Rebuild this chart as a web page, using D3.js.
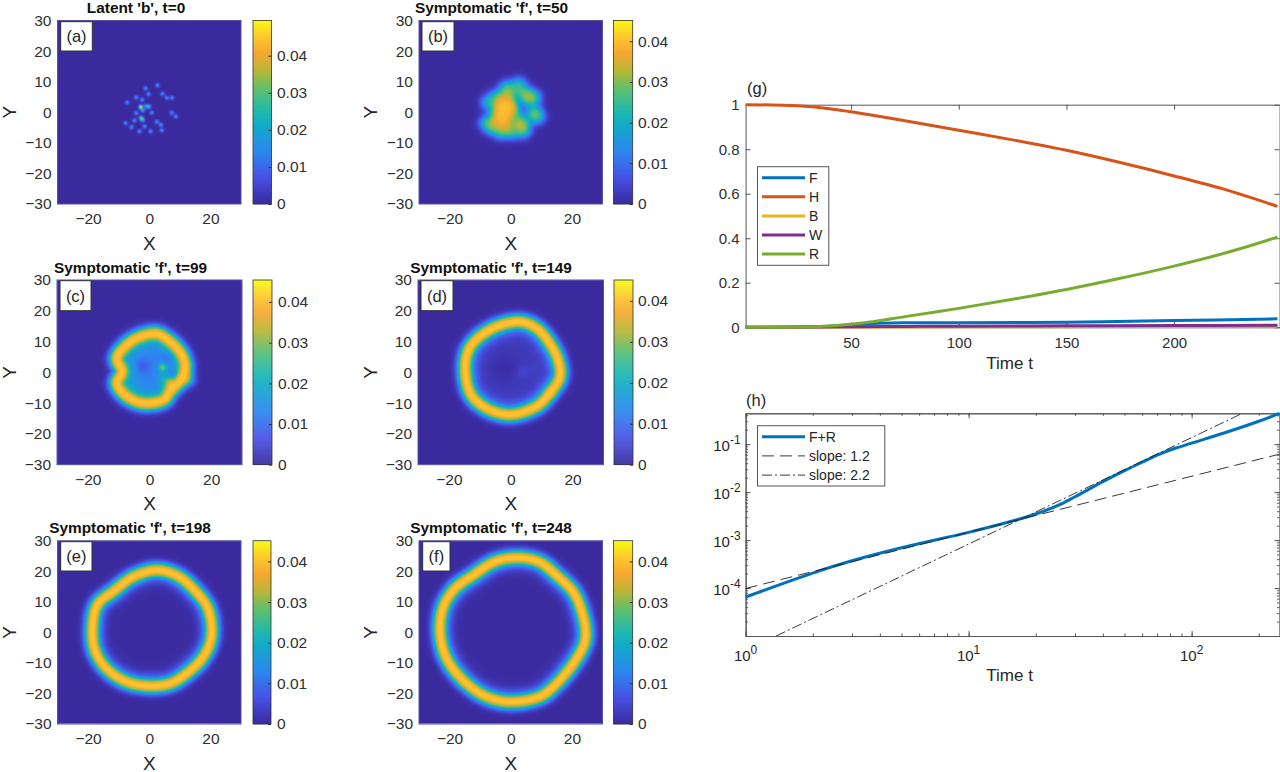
<!DOCTYPE html>
<html><head><meta charset="utf-8">
<script src="https://cdn.jsdelivr.net/npm/d3@7/dist/d3.min.js"></script>
<style>
html,body{margin:0;padding:0;background:#fff;overflow:hidden}
text{font-family:"Liberation Sans",Arial,sans-serif;fill:#262626}
</style></head><body><svg id="c" width="1280" height="772"></svg>
<script>
// ---------- data ----------
const parulaStops = ["#3a2a9e","#4752e4","#2d87f0","#12abc8","#1fb8b0","#5cc070","#b5b838","#f5a832","#fcc42e","#f9f914"];
const parulaPositions = [0,.143,.286,.43,.5,.62,.72,.82,.9,1];
const panelTitles = ["Latent 'b', t=0","Symptomatic 'f', t=50","Symptomatic 'f', t=99","Symptomatic 'f', t=149","Symptomatic 'f', t=198","Symptomatic 'f', t=248"];
const panelLetters = ["(a)","(b)","(c)","(d)","(e)","(f)"];
const colorMax = [0.0495,0.0451,0.0454,0.0451,0.0451,0.0451];
const xTicks = [-20,0,20];
const yTicks = [-30,-20,-10,0,10,20,30];
const cbTicks = [0,0.01,0.02,0.03,0.04];
// seeds [x, y, amplitude]
const seeds = [[-1.14,7.8,.016],[2.78,8.8,.016],[-.16,5.86,.017],[4.41,5.96,.016],[5.83,4.66,.016],[7.57,4.66,.016],[-4.19,4.77,.016],[-2.23,4,.016],[-7.13,3.13,.015],[-2.67,1.6,.047],[-.06,1.82,.024],[-1,1.85,.018],[-2,.52,.017],[.93,-.25,.016],[-4.19,-.35,.016],[7.46,-.25,.016],[8.77,-1.44,.015],[-2.56,-1.99,.03],[-2.1,-2.6,.02],[-4.74,-2.75,.016],[-7.68,-3.62,.015],[-5.72,-4.93,.016],[-1.47,-4.71,.016],[2.56,-3.19,.016],[3.87,-4.17,.016],[4.19,-6.02,.016],[-3.1,-6.35,.016],[.49,-6.35,.016]];
// infection front ridges [x, y]
const ridgeC = [[2.4,12.5],[6.7,10],[10.5,5.7],[11.6,1.8],[10.5,-2],[6.7,-6.3],[4.6,-9],[-2,-10.1],[-7.4,-7.9],[-10.6,-3.6],[-9,.2],[-10.6,4.6],[-7.4,8.9],[-3,11.6]];
const ridgeD = [[3,16.4],[8.4,14.3],[12.7,9.4],[15.4,4],[16,-1.4],[12.7,-6.8],[8.4,-11.1],[-.3,-13.8],[-7.8,-11.7],[-12.7,-7.4],[-14.5,-1.4],[-14.3,5.1],[-12.2,9.4],[-5.7,14.3]];
const ridgeE = [[2.5,20.4],[9,18.7],[14.4,14.4],[19.3,7.8],[20.4,-1.4],[17.7,-8],[12.3,-13.4],[6.8,-16.7],[.3,-17.5],[-7.4,-16.1],[-13.9,-11.8],[-17.7,-5.8],[-18.5,1.9],[-16.8,9.2],[-11.5,13.6],[-5.2,18.2]];
const ridgeF = [[3,24.5],[9.6,23],[15,18.8],[20.5,13.3],[23,7.9],[24.6,.8],[24.2,-3.5],[21,-9.5],[15,-16.8],[9.6,-21],[-.2,-22.7],[-7.9,-21],[-14.4,-16.7],[-19.3,-11.2],[-22,-5.8],[-23.1,1.9],[-21.8,8.9],[-18.2,14.4],[-12.2,18.8],[-4.6,23.4]];
// interior patches [x, y, amplitude, width]
const patchesC = [[-2,1.8,-.005,1.6],[4.2,1.6,.016,.9],[7.8,-.9,-.005,1],[6.5,-3.5,.01,1.2],[4.7,-2,.005,1.5],[13,-2.5,.012,1.5],[-5,-4,.002,2],[6,5,-.003,1.5]];
const patchesD = [[-2,1,-.002,3],[4,0,.002,1.5],[8,1,.001,1.5],[13,-7,.004,1.3]];
const patchesE = [];
const patchesF = [];
const interiorBase = [.0125,.0025,.0002,.0002];
// time series
const tH=[1,25,40,50,75,100,125,150,175,200,225,248], vH=[1,.995,.982,.968,.928,.885,.842,.795,.74,.68,.615,.543];
const tR=[1,25,40,50,60,75,100,125,150,175,200,225,248], vR=[0,.001,.006,.014,.025,.048,.085,.126,.17,.22,.275,.337,.405];
const tF=[1,25,40,50,60,75,100,150,200,248], vF=[0,.001,.005,.011,.017,.02,.021,.023,.03,.038];
const tB=[1,50,100,150,200,248], vB=[0,.001,.002,.003,.004,.005];
const tW=[1,50,75,100,150,200,248], vW=[0,.002,.004,.005,.007,.008,.009];
const linearXTicks=[50,100,150,200], linearYTicks=[0,.2,.4,.6,.8,1];
const seriesNames=["F","H","B","W","R"];
const seriesColors=["#0072bd","#d95319","#edb120","#7e2f8e","#77ac30"];
// log plot
const tSum=[1,2,3,5,10,15,20,25,30,40,50,60,70,85,100,150,200,248], vSum=[6.5e-5,2.05e-4,3.7e-4,6.9e-4,1.45e-3,2.35e-3,3.5e-3,5.2e-3,8e-3,.0165,.028,.042,.059,.083,.105,.19,.3,.44];
const tSlope1=[1,248], vSlope1=[9.8e-5,.062];
const tSlope2=[1.37,169], vSlope2=[1e-5,.44];
const logLegend=["F+R","slope: 1.2","slope: 2.2"];

// ---------- layout ----------
const layout=[
 {x0:57.5,x1:241,y0:20.5,y1:204,c0:253,c1:271.5,tx:136,ty:13,b:[60.7,92.3,21.7,51],ylab:9,cl:277},
 {x0:419,x1:602.5,y0:20.5,y1:204,c0:613.5,c1:632.7,tx:491.5,ty:13,b:[422,454,21.7,51],ylab:370,cl:638},
 {x0:57,x1:242,y0:280,y1:464.7,c0:253,c1:272,tx:130.5,ty:272.5,b:[60,91,280.7,310.7],ylab:9,cl:278},
 {x0:418,x1:603.5,y0:280,y1:464.7,c0:614,c1:633,tx:491,ty:272.5,b:[421,453,280.7,310.7],ylab:370,cl:638},
 {x0:57.5,x1:241,y0:540.7,y1:724,c0:253,c1:271,tx:130,ty:532.5,b:[60.7,92,541.7,571],ylab:9,cl:277},
 {x0:419,x1:602.5,y0:540.7,y1:724,c0:613.5,c1:632.7,tx:491,ty:532.5,b:[422.7,450,541.7,571],ylab:370,cl:638}];
const svg=d3.select("#c");
const parulaAt=d3.scaleLinear().domain(parulaPositions).range(parulaStops).clamp(true);
const TICK=15.5;

function sampleRidge(r){
  const p=document.createElementNS("http://www.w3.org/2000/svg","path");
  p.setAttribute("d",d3.line().curve(d3.curveCatmullRomClosed)(r));
  const L=p.getTotalLength(),out=[];
  for(let s=0;s<L;s+=.4){const q=p.getPointAtLength(s);out.push([q.x,q.y]);}
  return out;
}
const g2=(d2,s)=>Math.exp(-d2/(2*s*s));
function makeField(i){
  if(i===0) return (x,y)=>{let v=0;for(const s of seeds){const d=(x-s[0])**2+(y-s[1])**2;v+=s[2]*g2(d,.47);}return v;};
  if(i===1) return (x,y)=>{let v=0;for(const s of seeds){const d=(x-s[0])**2+(y-s[1])**2;v+=(s[2]/.016)*g2(d,1.7);}
     return .0405*(1-Math.exp(-v*.7));};
  const k=i-2;
  const rid=sampleRidge([ridgeC,ridgeD,ridgeE,ridgeF][k]);
  const patches=[patchesC,patchesD,patchesE,patchesF][k];
  const base=interiorBase[k];
  return (x,y)=>{
    let m=1e9;for(const q of rid){const d=(x-q[0])*(x-q[0])+(y-q[1])*(y-q[1]);if(d<m)m=d;}
    const dist=Math.sqrt(m),e=Math.max(dist-.35,0),e2=e*e;
    let v;
    if(d3.polygonContains(rid,[x,y])) v=.027*g2(e2,1.3)+.0135*g2(e2,2.4)+base*(1-g2(m,2));
    else v=.0405*g2(e2,1.6);
    const fade=1-g2(m,1);
    for(const q of patches){v+=q[2]*g2((x-q[0])**2+(y-q[1])**2,q[3])*fade;}
    return Math.max(v,0);
  };
}
layout.forEach((L,i)=>{
  const x=d3.scaleLinear().domain([-30,30]).range([L.x0,L.x1]);
  const y=d3.scaleLinear().domain([-30,30]).range([L.y1,L.y0]);
  const color=d3.scaleLinear().domain([0,colorMax[i]]).range([0,1]);
  const W=Math.round(L.x1-L.x0),H=Math.round(L.y1-L.y0);
  const cv=document.createElement("canvas");cv.width=W;cv.height=H;
  const ctx=cv.getContext("2d"),im=ctx.createImageData(W,H),f=makeField(i);
  for(let py=0;py<H;py++)for(let px=0;px<W;px++){
    const c=d3.rgb(parulaAt(color(f(x.invert(L.x0+px+.5),y.invert(L.y0+py+.5)))));
    const o=(py*W+px)*4;im.data[o]=c.r;im.data[o+1]=c.g;im.data[o+2]=c.b;im.data[o+3]=255;
  }
  ctx.putImageData(im,0,0);
  svg.append("image").attr("x",L.x0).attr("y",L.y0).attr("width",L.x1-L.x0).attr("height",L.y1-L.y0).attr("href",cv.toDataURL());
  svg.append("rect").attr("x",L.x0).attr("y",L.y0).attr("width",L.x1-L.x0).attr("height",L.y1-L.y0).attr("fill","none").attr("stroke","#57559a").attr("stroke-width",1);
  // axes
  const ax=svg.append("g").attr("transform",`translate(0,${L.y1})`).call(d3.axisBottom(x).tickValues(xTicks).tickSize(0).tickPadding(9).tickFormat(d3.format("d")));
  const ay=svg.append("g").attr("transform",`translate(${L.x0},0)`).call(d3.axisLeft(y).tickValues(yTicks).tickSize(0).tickPadding(6).tickFormat(d3.format("d")));
  [ax,ay].forEach(a=>{a.select(".domain").remove();a.selectAll("text").attr("font-size",TICK).attr("font-family",null).style("fill","#303030");});
  ax.selectAll("text").attr("dy","0.71em");
  svg.append("text").attr("x",(L.x0+L.x1)/2).attr("y",L.y1+45.5).attr("text-anchor","middle").attr("font-size",19).text("X");
  svg.append("text").attr("transform",`translate(${L.ylab+6.5},${(L.y0+L.y1)/2}) rotate(-90)`).attr("text-anchor","middle").attr("font-size",19).text("Y");
  svg.append("text").attr("x",L.tx).attr("y",L.ty).attr("text-anchor","middle").attr("font-size",15.4).attr("font-weight","bold").style("fill","#111").text(panelTitles[i]);
  // label box
  const b=L.b;
  svg.append("rect").attr("x",b[0]).attr("y",b[2]).attr("width",b[1]-b[0]).attr("height",b[3]-b[2]).attr("fill","#fff").attr("stroke","#333").attr("stroke-width",1);
  svg.append("text").attr("x",(b[0]+b[1])/2).attr("y",(b[2]+b[3])/2+6).attr("text-anchor","middle").attr("font-size",16.5).text(panelLetters[i]);
  // colorbar
  const cy=d3.scaleLinear().domain([0,colorMax[i]]).range([L.y1,L.y0]);
  const cbH=Math.round(L.y1-L.y0);
  svg.append("g").selectAll("rect").data(d3.range(cbH)).join("rect")
    .attr("x",L.c0).attr("width",L.c1-L.c0).attr("y",d=>L.y1-d-1).attr("height",1.2)
    .attr("fill",d=>parulaAt((d+.5)/cbH));
  svg.append("rect").attr("x",L.c0).attr("y",L.y0).attr("width",L.c1-L.c0).attr("height",L.y1-L.y0).attr("fill","none").attr("stroke","#333").attr("stroke-width",.8);
  const cax=svg.append("g").attr("transform",`translate(${L.c1},0)`).call(d3.axisRight(cy).tickValues(cbTicks).tickSize(-3).tickPadding(6).tickFormat(d=>d===0?"0":d3.format(".2f")(d)));
  cax.select(".domain").remove();cax.selectAll("line").attr("stroke","#333");
  cax.selectAll("text").attr("font-size",TICK).attr("font-family",null).attr("x",L.cl-L.c1).style("fill","#303030");
});

// ---------- panel g ----------
const GX=[745.6,1279.6],GY=[327.3,104.7],HY=[636,413.3];
const gx=d3.scaleLinear().domain([1,249]).range(GX);
const gy=d3.scaleLinear().domain([0,1]).range(GY);
const axisCol="#555";
function styleAxis(a){a.select(".domain").attr("stroke",axisCol);a.selectAll("line").attr("stroke",axisCol);a.selectAll("text").attr("font-size",15).attr("font-family",null).style("fill","#303030");}
styleAxis(svg.append("g").attr("transform",`translate(0,${GY[1]})`).call(d3.axisTop(gx).tickValues(linearXTicks).tickSize(-5).tickSizeOuter(0).tickFormat("")));
styleAxis(svg.append("g").attr("transform",`translate(${GX[1]},0)`).call(d3.axisRight(gy).tickValues(linearYTicks).tickSize(-5).tickSizeOuter(0).tickFormat("")));
styleAxis(svg.append("g").attr("transform",`translate(0,${GY[0]})`).call(d3.axisBottom(gx).tickValues(linearXTicks).tickSize(-5).tickSizeOuter(0).tickPadding(10)));
styleAxis(svg.append("g").attr("transform",`translate(${GX[0]},0)`).call(d3.axisLeft(gy).tickValues(linearYTicks).tickSize(-5).tickSizeOuter(0).tickPadding(6).tickFormat(d=>d)));
const gLine=d3.line().curve(d3.curveCatmullRom).x(d=>gx(d[0])).y(d=>gy(d[1]));
const gSeries=[d3.zip(tF,vF),d3.zip(tH,vH),d3.zip(tB,vB),d3.zip(tW,vW),d3.zip(tR,vR)];
gSeries.forEach((s,i)=>svg.append("path").attr("d",gLine(s)).attr("fill","none").attr("stroke",seriesColors[i]).attr("stroke-width",3));
svg.append("text").attr("x",747).attr("y",94).attr("font-size",16.5).text("(g)");
svg.append("text").attr("x",(GX[0]+GX[1])/2-3).attr("y",369).attr("text-anchor","middle").attr("font-size",17).text("Time t");
svg.append("rect").attr("x",757.5).attr("y",166.7).attr("width",71.3).attr("height",98.6).attr("fill","#fff").attr("stroke","#555");
seriesNames.forEach((n,i)=>{
  const ly=177.7+i*19.1;
  svg.append("line").attr("x1",762).attr("x2",805).attr("y1",ly).attr("y2",ly).attr("stroke",seriesColors[i]).attr("stroke-width",3);
  svg.append("text").attr("x",809).attr("y",ly+5).attr("font-size",14).text(n);
});

// ---------- panel h ----------
const hx=d3.scaleLog().domain([1,248]).range(GX);
const hy=d3.scaleLog().domain([1e-5,.44]).range(HY);
const xMinor=d3.range(1,3).flatMap(e=>d3.range(1,10).map(m=>m*10**(e-1))).concat([100,200]);
const yMinor=[-5,-4,-3,-2,-1].flatMap(e=>d3.range(1,10).map(m=>m*10**e)).filter(v=>v<=.44);
const xMajor=[1,10,100], yMajor=[1e-4,1e-3,1e-2,1e-1];
[[d3.axisTop(hx),`translate(0,${HY[1]})`,-2.5,xMinor],[d3.axisBottom(hx),`translate(0,${HY[0]})`,-2.5,xMinor],[d3.axisRight(hy),`translate(${GX[1]},0)`,-2.5,yMinor],[d3.axisLeft(hy),`translate(${GX[0]},0)`,-2.5,yMinor],
 [d3.axisTop(hx),`translate(0,${HY[1]})`,-5,xMajor],[d3.axisBottom(hx),`translate(0,${HY[0]})`,-5,xMajor],[d3.axisRight(hy),`translate(${GX[1]},0)`,-5,yMajor],[d3.axisLeft(hy),`translate(${GX[0]},0)`,-5,yMajor]]
 .forEach(([a,t,s,v])=>styleAxis(svg.append("g").attr("transform",t).call(a.tickValues(v).tickSize(s).tickSizeOuter(0).tickFormat(""))));
const supLabel=(sel,exp,sz)=>{sel.append("tspan").attr("font-size",sz).text("10");sel.append("tspan").attr("font-size",sz-3).attr("dy",-7).text(exp);};
xMajor.forEach(v=>{
  const t=svg.append("text").attr("x",hx(v)).attr("y",661).attr("text-anchor","middle");
  supLabel(t,String(Math.round(Math.log10(v))),15);
});
yMajor.forEach(v=>{
  const t=svg.append("text").attr("x",GX[0]-5).attr("y",hy(v)+7).attr("text-anchor","end");
  supLabel(t,String(Math.round(Math.log10(v))),15);
});
const hLine=d3.line().curve(d3.curveCatmullRom).x(d=>hx(d[0])).y(d=>hy(d[1]));
svg.append("path").attr("d",hLine(d3.zip(tSum,vSum))).attr("fill","none").attr("stroke","#0072bd").attr("stroke-width",3);
svg.append("path").attr("d",hLine(d3.zip(tSlope1,vSlope1))).attr("fill","none").attr("stroke","#222").attr("stroke-width",.9).attr("stroke-dasharray","12 6");
svg.append("path").attr("d",hLine(d3.zip(tSlope2,vSlope2))).attr("fill","none").attr("stroke","#222").attr("stroke-width",.9).attr("stroke-dasharray","10 3 2 3");
svg.append("text").attr("x",746).attr("y",406).attr("font-size",16.5).text("(h)");
svg.append("text").attr("x",(GX[0]+GX[1])/2-3).attr("y",681).attr("text-anchor","middle").attr("font-size",17).text("Time t");
svg.append("rect").attr("x",757.5).attr("y",425.7).attr("width",127.3).attr("height",60.3).attr("fill","#fff").attr("stroke","#555");
logLegend.forEach((n,i)=>{
  const ly=436.7+i*19.2;
  const l=svg.append("line").attr("x1",762).attr("x2",805).attr("y1",ly).attr("y2",ly);
  if(i===0) l.attr("stroke","#0072bd").attr("stroke-width",3);
  else l.attr("stroke","#222").attr("stroke-width",.9).attr("stroke-dasharray",i===1?"12 6":"10 3 2 3");
  svg.append("text").attr("x",809).attr("y",ly+5).attr("font-size",14).text(n);
});
</script></body></html>
